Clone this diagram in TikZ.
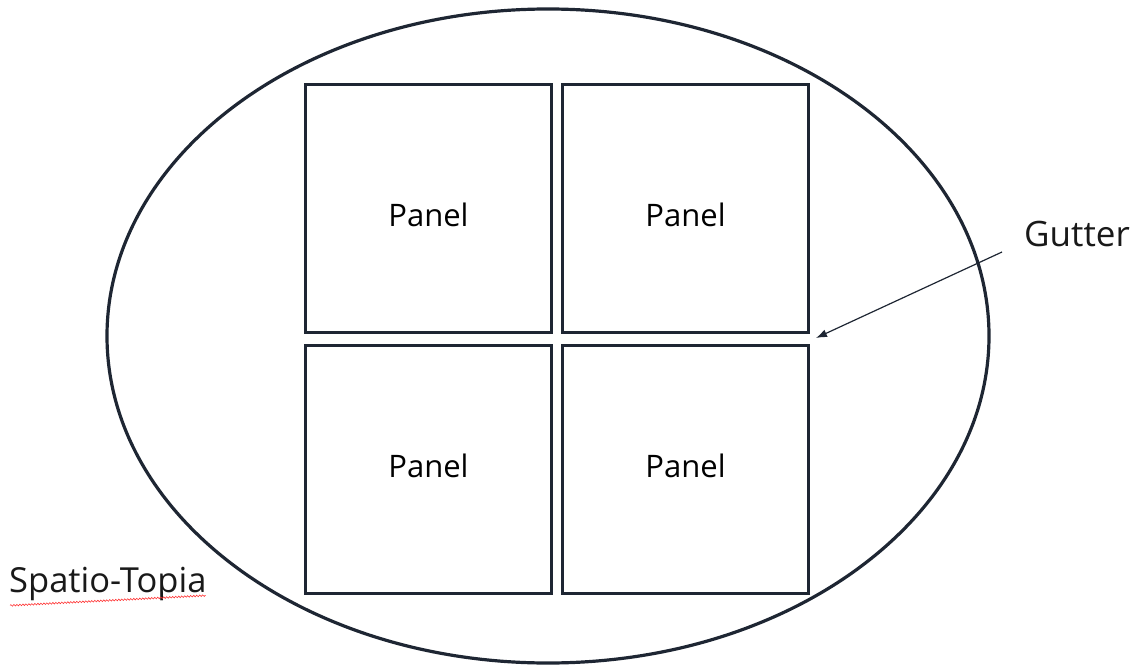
\documentclass[tikz,border=0pt]{standalone}
\usepackage{fontspec}
\setmainfont{Open Sans}
\usetikzlibrary{arrows.meta,decorations.pathmorphing}
\definecolor{ink}{HTML}{1E2633}
\newcommand{\paneltext}[1]{\raisebox{-#1}[0pt][0pt]{Panel}}
\tikzset{
  panel/.style={draw=ink, line width=3.2pt, minimum width=246pt, minimum height=248pt, inner sep=0pt, font=\fontsize{31}{36}\selectfont},
  label/.style={inner sep=0pt, text=black!90},
  pointer/.style={draw=ink, line width=1.2pt, -{Latex[length=11pt,width=8pt]}}
}
\begin{document}
\begin{tikzpicture}[x=1pt,y=-1pt]
\useasboundingbox (0,0) rectangle (1137,666);
\draw[ink, line width=3.2pt] (548,336) ellipse [x radius=441, y radius=327];
\node[panel] (p1) at (428.5,208.5) {\paneltext{17.5pt}};
\node[panel] (p2) at (685.5,208.5) {\paneltext{17.5pt}};
\node[panel] (p3) at (428.5,469.5) {\paneltext{7.5pt}};
\node[panel] (p4) at (685.5,469.5) {\paneltext{7.5pt}};
\node[label, font=\fontsize{35}{40}\selectfont] (gutter) at (1077,234) {Gutter};
\coordinate (gs) at (1002,252);
\coordinate (ge) at (816,338);
\draw[pointer] (gs) -- (ge);
\node[label, font=\fontsize{34.5}{40}\selectfont, anchor=base west] (topia) at (9,592) {Spatio-Topia};
\draw[red!80, line width=0.6pt, decorate, decoration={snake, amplitude=0.8pt, segment length=3pt}] (topia.south west) ++(1,5) -- ([xshift=-1pt,yshift=5pt]topia.south east);
\end{tikzpicture}
\end{document}
